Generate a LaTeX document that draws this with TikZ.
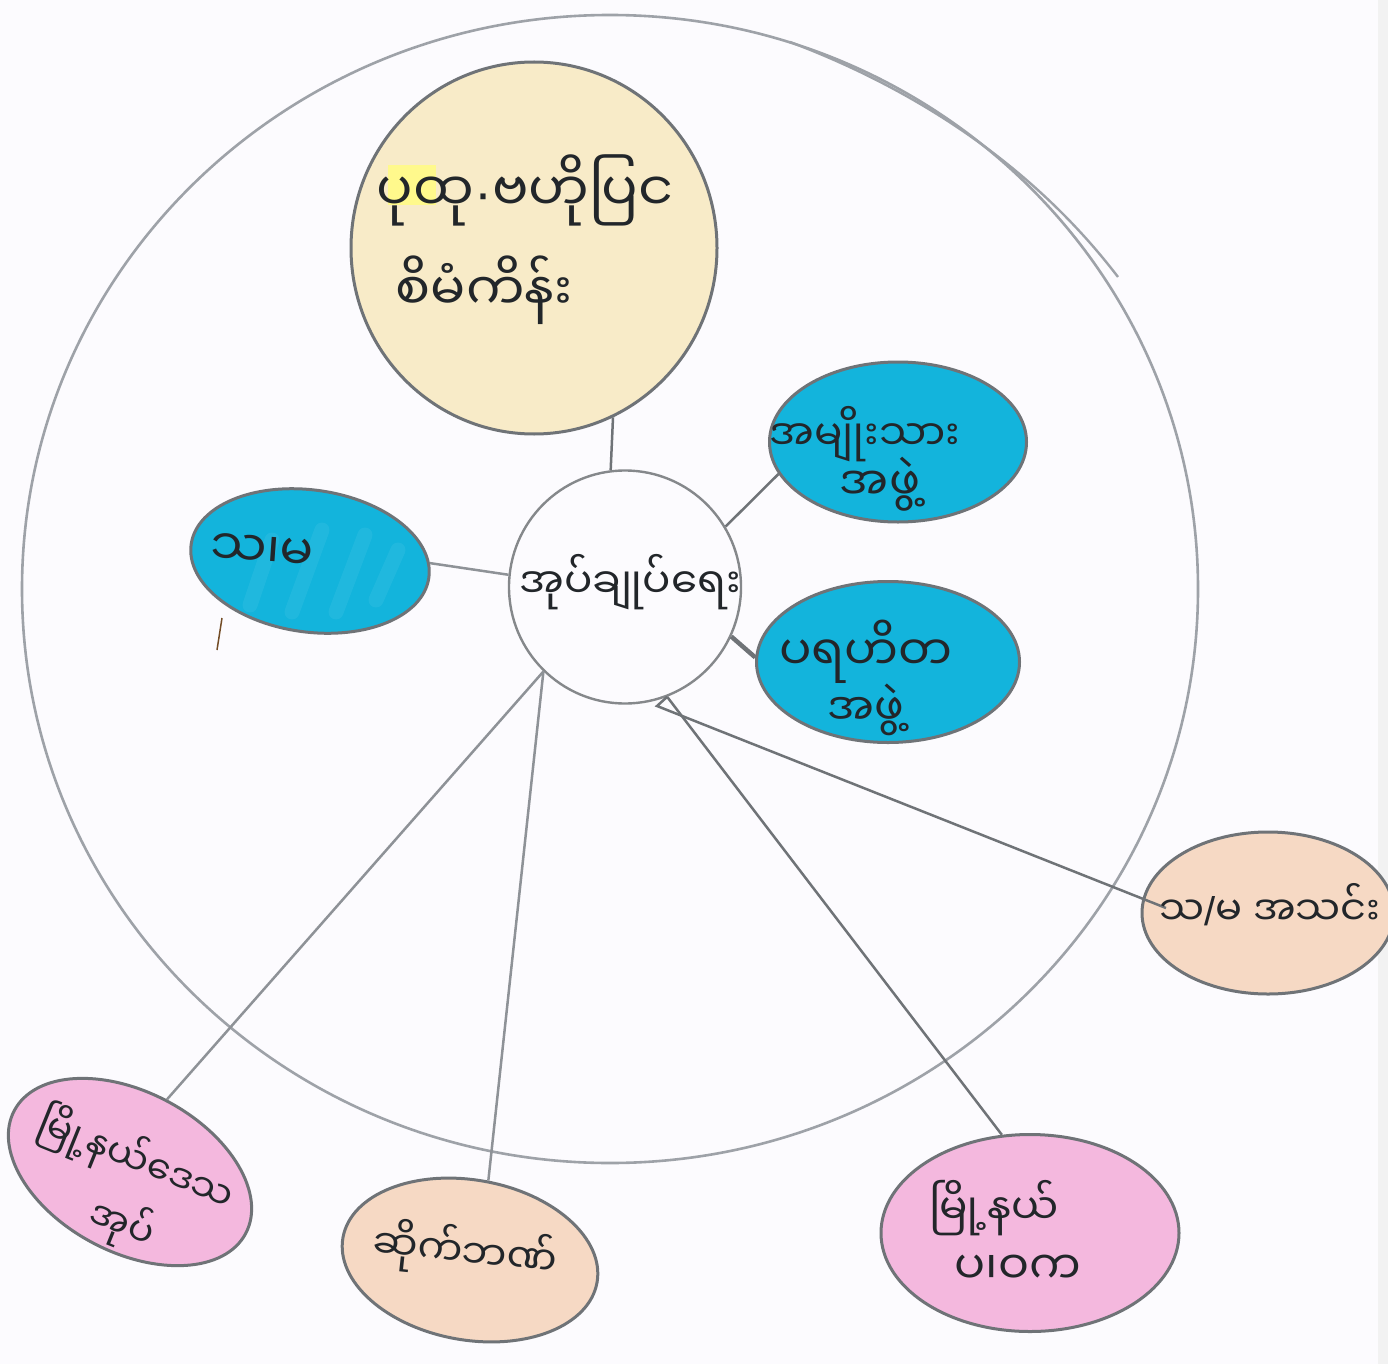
\documentclass[tikz,border=0pt]{standalone}
\usepackage{fontspec}
\newfontfamily\myan[Script=Myanmar]{Noto Sans Myanmar UI}
\newfontfamily\latn{Liberation Sans}
\usetikzlibrary{shapes.geometric}
\definecolor{paper}{HTML}{FCFBFE}
\definecolor{pencil}{HTML}{9EA2A8}
\definecolor{edge}{HTML}{6F7377}
\definecolor{link}{HTML}{8E9297}
\definecolor{cyanfill}{HTML}{13B4DC}
\definecolor{peachfill}{HTML}{F6D9C4}
\definecolor{pinkfill}{HTML}{F4B8DE}
\definecolor{creamfill}{HTML}{F8EBC8}
\definecolor{inkc}{HTML}{22262A}
\tikzset{
  x=1pt,y=-1pt,
  blob/.style={ellipse,draw=edge,line width=3pt,inner sep=0pt},
  linkline/.style={draw=link,line width=2.5pt},
  script/.style={font=\myan\fontsize{#1}{#1}\selectfont,text=inkc,align=center,inner sep=0pt},
  script/.default=44,
  streak/.style={draw=white,opacity=.06,line width=15pt,line cap=round}
}
\begin{document}
\begin{tikzpicture}
\useasboundingbox (0,0) rectangle (1388,1364);
\clip (0,0) rectangle (1388,1364);
\fill[paper] (0,0) rectangle (1388,1364);
\fill[black!5] (1378,0) rectangle (1388,1364);
% outer pencil circle
\node[ellipse,draw=pencil,line width=2.6pt,inner sep=0pt,minimum width=1176pt,minimum height=1148pt] (outer) at (610,589) {};
\draw[draw=pencil,line width=2.4pt] (790,42) .. controls (930,95) and (1040,175) .. (1118,277);
% nodes
\node[blob,fill=creamfill,minimum width=366pt,minimum height=372pt] (plan) at (534,248) {};
\node[blob,fill=cyanfill,minimum width=257pt,minimum height=160pt] (nat) at (898,442) {};
\node[blob,fill=cyanfill,minimum width=263pt,minimum height=161pt] (cha) at (888,662) {};
\node[blob,fill=cyanfill,minimum width=240pt,minimum height=142pt,rotate=-8] (sama) at (310,561) {};
\node[blob,fill=peachfill,minimum width=252pt,minimum height=162pt] (assoc) at (1268,913) {};
\node[blob,fill=pinkfill,minimum width=298pt,minimum height=197pt] (pwk) at (1030,1233) {};
\node[blob,fill=peachfill,minimum width=258pt,minimum height=160pt,rotate=-10] (bank) at (470,1260) {};
\node[blob,fill=pinkfill,minimum width=262pt,minimum height=160pt,rotate=-28] (local) at (130,1172) {};
\node[ellipse,draw=edge!85,fill=paper,line width=2.4pt,inner sep=0pt,minimum width=232pt,minimum height=233pt] (admin) at (625,587) {};
% marker streaks in the left blue ellipse
\draw[streak] (250,605) -- (272,540);
\draw[streak] (292,612) -- (322,530);
\draw[streak] (336,612) -- (365,535);
\draw[streak] (376,600) -- (398,550);
% correction patch and smudge
\fill[yellow!45] (388,165) rectangle (436,205);
\draw[brown!60!black,line width=1.5pt] (222,618) -- (217,650);
% connectors
\coordinate (tip) at (657,706);
\coordinate (associn) at (1166,908);
\draw[linkline,draw=edge] (plan.-65) -- (admin.97);
\draw[linkline,draw=edge] (admin.31) -- (nat.195);
\draw[draw=edge,line width=4.5pt] (admin.-25) -- (cha.178);
\draw[linkline] (sama.7) -- (admin.174);
\draw[linkline] (admin.226) -- (local.91);
\draw[linkline] (admin.226) -- (bank.87);
\draw[linkline,draw=edge] (admin.-69) -- (pwk.106);
\draw[linkline,draw=edge] (admin.-69) -- (tip) -- (associn);
% texts
\node[script=54] (t1) at (525,190) {ပုထု{\latn ·}ဗဟိုပြင};
\node[script=52] (t2) at (484,290) {စိမံကိန်း};
\node[script=42] (t3) at (630,582) {အုပ်ချုပ်ရေး};
\node[script=42] (t4) at (865,434) {အမျိုးသား};
\node[script=46] (t5) at (880,484) {အဖွဲ့};
\node[script=48] (t6) at (866,652) {ပရဟိတ};
\node[script=44] (t7) at (866,710) {အဖွဲ့};
\node[script=50,rotate=-4] (t8) at (262,552) {သ၊မ};
\node[script=40] (t9) at (1270,905) {သ{\latn /}မ အသင်း};
\node[script=42] (t10) at (994,1208) {မြို့နယ်};
\node[script=46] (t11) at (1018,1270) {ပ၊ဝက};
\node[script=40,rotate=-6] (t12) at (465,1252) {ဆိုက်ဘဏ်};
\node[script=38,rotate=-22] (t13) at (136,1160) {မြို့နယ်ဒေသ};
\node[script=38,rotate=-22] (t14) at (122,1224) {အုပ်};
\end{tikzpicture}
\end{document}
